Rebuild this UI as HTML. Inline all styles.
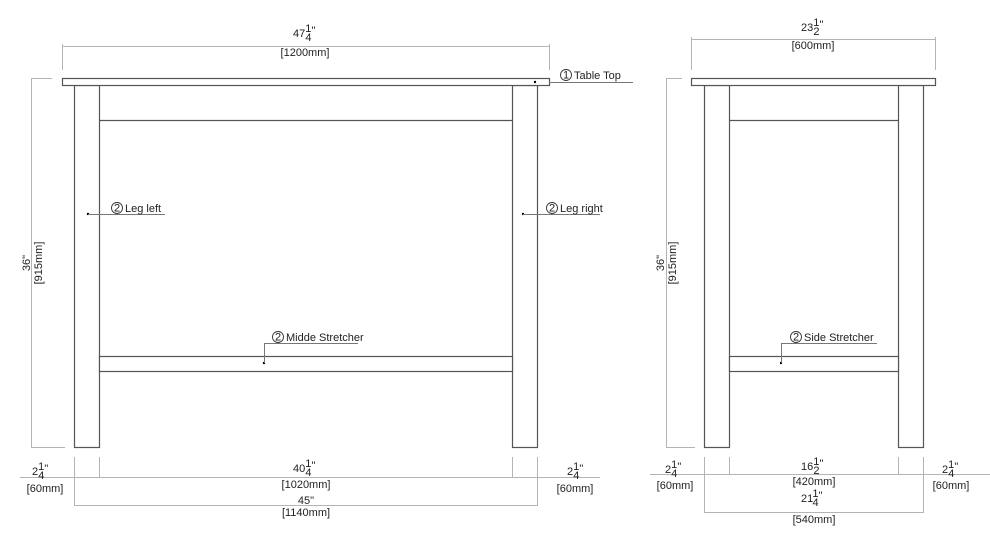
<!DOCTYPE html>
<html><head><meta charset="utf-8"><style>
body{margin:0;background:#fff}
svg{display:block;font-family:"Liberation Sans",sans-serif}
.d{stroke:#b4b4b4;stroke-width:1;fill:none}
.o{stroke:#555;stroke-width:1.2;fill:#fff}
.l{stroke:#777;stroke-width:1;fill:none}
text{fill:#222;font-size:11px}
.c{fill:none;stroke:#333;stroke-width:0.9}
.f{font-size:11px}
</style></head><body>
<svg width="990" height="544" viewBox="0 0 990 544">
<!-- FRONT VIEW -->
<rect class="o" x="74.5" y="85.5" width="25" height="362"/>
<rect class="o" x="512.5" y="85.5" width="25" height="362"/>
<rect class="o" x="62.5" y="78.5" width="487" height="7"/>
<line class="o" x1="99" y1="120.5" x2="512" y2="120.5"/>
<rect class="o" x="99.5" y="356.5" width="413" height="15"/>
<line class="d" x1="62.5" y1="44" x2="62.5" y2="70"/>
<line class="d" x1="549.5" y1="44" x2="549.5" y2="70"/>
<line class="d" x1="62" y1="46.5" x2="550" y2="46.5"/>
<text x="293" y="37">47<tspan class="f" dy="-5">1</tspan><tspan class="f" dx="-6" dy="9">4</tspan><tspan dy="-7">"</tspan></text>
<text x="305" y="56" text-anchor="middle">[1200mm]</text>
<line class="d" x1="31.5" y1="78" x2="31.5" y2="447"/>
<line class="d" x1="31" y1="78.5" x2="52" y2="78.5"/>
<line class="d" x1="31" y1="447.5" x2="65" y2="447.5"/>
<text transform="translate(30,263) rotate(-90)" text-anchor="middle">36"</text>
<text transform="translate(42,263) rotate(-90)" text-anchor="middle">[915mm]</text>
<line class="d" x1="20" y1="477.5" x2="600" y2="477.5"/>
<line class="d" x1="74.5" y1="457" x2="74.5" y2="505"/>
<line class="d" x1="99.5" y1="457" x2="99.5" y2="477"/>
<line class="d" x1="512.5" y1="457" x2="512.5" y2="477"/>
<line class="d" x1="537.5" y1="457" x2="537.5" y2="505"/>
<line class="d" x1="74" y1="505.5" x2="538" y2="505.5"/>
<text x="32" y="475">2<tspan class="f" dy="-5">1</tspan><tspan class="f" dx="-6" dy="9">4</tspan><tspan dy="-7">"</tspan></text>
<text x="45" y="492" text-anchor="middle">[60mm]</text>
<text x="293" y="472">40<tspan class="f" dy="-5">1</tspan><tspan class="f" dx="-6" dy="9">4</tspan><tspan dy="-7">"</tspan></text>
<text x="306" y="488" text-anchor="middle">[1020mm]</text>
<text x="306" y="504" text-anchor="middle">45"</text>
<text x="306" y="516" text-anchor="middle">[1140mm]</text>
<text x="567" y="475">2<tspan class="f" dy="-5">1</tspan><tspan class="f" dx="-6" dy="9">4</tspan><tspan dy="-7">"</tspan></text>
<text x="575" y="492" text-anchor="middle">[60mm]</text>
<circle cx="535" cy="82" r="1.2" fill="#000"/>
<line class="l" x1="549" y1="82.5" x2="633" y2="82.5"/>
<circle class="c" cx="566" cy="75" r="5.5"/><text x="566" y="78.5" text-anchor="middle" font-size="9">1</text>
<text x="574" y="79">Table Top</text>
<circle cx="88" cy="214" r="1.2" fill="#000"/>
<line class="l" x1="88" y1="214.5" x2="165" y2="214.5"/>
<circle class="c" cx="117" cy="208" r="5.5"/><text x="117" y="211.5" text-anchor="middle" font-size="9">2</text>
<text x="125" y="212">Leg left</text>
<circle cx="523" cy="214" r="1.2" fill="#000"/>
<line class="l" x1="523" y1="214.5" x2="600" y2="214.5"/>
<circle class="c" cx="552" cy="208" r="5.5"/><text x="552" y="211.5" text-anchor="middle" font-size="9">2</text>
<text x="560" y="212">Leg right</text>
<circle cx="264" cy="363" r="1.2" fill="#000"/>
<polyline class="l" points="264.5,363 264.5,343.5 358,343.5"/>
<circle class="c" cx="278" cy="337" r="5.5"/><text x="278" y="340.5" text-anchor="middle" font-size="9">2</text>
<text x="286" y="341">Midde Stretcher</text>

<!-- SIDE VIEW -->
<rect class="o" x="704.5" y="85.5" width="25" height="362"/>
<rect class="o" x="898.5" y="85.5" width="25" height="362"/>
<rect class="o" x="691.5" y="78.5" width="244" height="7"/>
<line class="o" x1="729" y1="120.5" x2="898" y2="120.5"/>
<rect class="o" x="729.5" y="356.5" width="169" height="15"/>
<line class="d" x1="691.5" y1="37" x2="691.5" y2="70"/>
<line class="d" x1="935.5" y1="37" x2="935.5" y2="70"/>
<line class="d" x1="691" y1="39.5" x2="936" y2="39.5"/>
<text x="801" y="31">23<tspan class="f" dy="-5">1</tspan><tspan class="f" dx="-6" dy="9">2</tspan><tspan dy="-7">"</tspan></text>
<text x="813" y="49" text-anchor="middle">[600mm]</text>
<line class="d" x1="666.5" y1="78" x2="666.5" y2="447"/>
<line class="d" x1="666" y1="78.5" x2="682" y2="78.5"/>
<line class="d" x1="666" y1="447.5" x2="695" y2="447.5"/>
<text transform="translate(664,263) rotate(-90)" text-anchor="middle">36"</text>
<text transform="translate(676,263) rotate(-90)" text-anchor="middle">[915mm]</text>
<line class="d" x1="650" y1="474.5" x2="990" y2="474.5"/>
<line class="d" x1="704.5" y1="457" x2="704.5" y2="512"/>
<line class="d" x1="729.5" y1="457" x2="729.5" y2="474"/>
<line class="d" x1="898.5" y1="457" x2="898.5" y2="474"/>
<line class="d" x1="923.5" y1="457" x2="923.5" y2="512"/>
<line class="d" x1="704" y1="512.5" x2="924" y2="512.5"/>
<text x="665" y="473">2<tspan class="f" dy="-5">1</tspan><tspan class="f" dx="-6" dy="9">4</tspan><tspan dy="-7">"</tspan></text>
<text x="675" y="489" text-anchor="middle">[60mm]</text>
<text x="801" y="470">16<tspan class="f" dy="-5">1</tspan><tspan class="f" dx="-6" dy="9">2</tspan><tspan dy="-7">"</tspan></text>
<text x="814" y="485" text-anchor="middle">[420mm]</text>
<text x="801" y="502">21<tspan class="f" dy="-5">1</tspan><tspan class="f" dx="-6" dy="9">4</tspan><tspan dy="-7">"</tspan></text>
<text x="814" y="523" text-anchor="middle">[540mm]</text>
<text x="942" y="473">2<tspan class="f" dy="-5">1</tspan><tspan class="f" dx="-6" dy="9">4</tspan><tspan dy="-7">"</tspan></text>
<text x="951" y="489" text-anchor="middle">[60mm]</text>
<circle cx="781" cy="363" r="1.2" fill="#000"/>
<polyline class="l" points="781.5,363 781.5,343.5 877,343.5"/>
<circle class="c" cx="796" cy="337" r="5.5"/><text x="796" y="340.5" text-anchor="middle" font-size="9">2</text>
<text x="804" y="341">Side Stretcher</text>
</svg>
</body></html>
